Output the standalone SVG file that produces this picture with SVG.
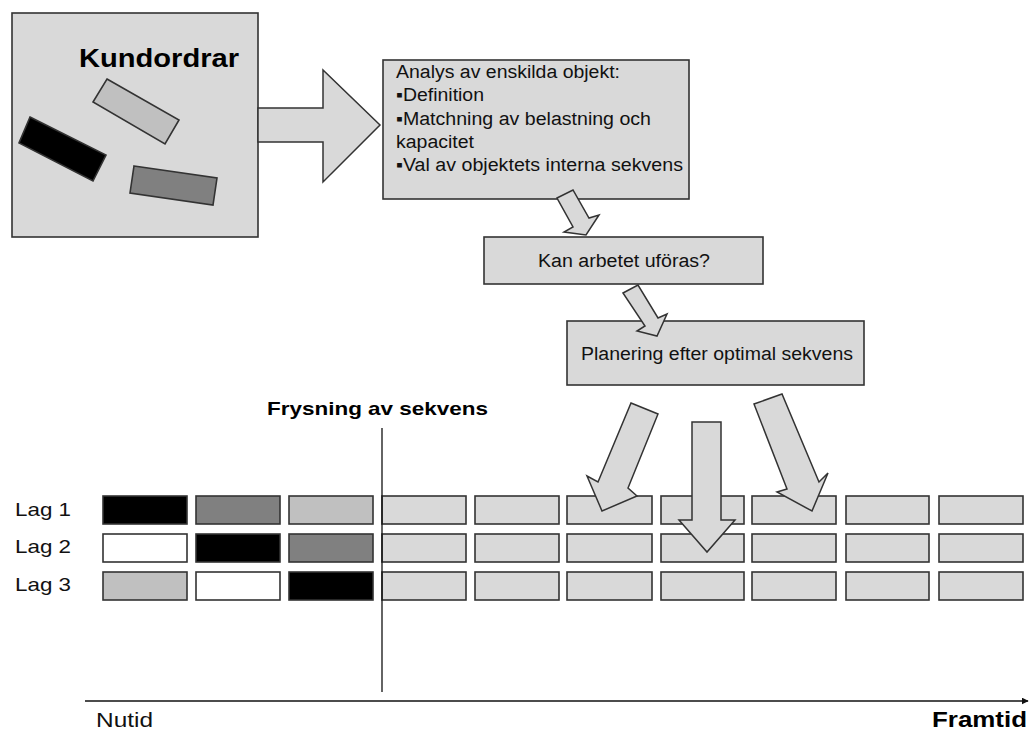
<svg xmlns="http://www.w3.org/2000/svg" width="1029" height="731" viewBox="0 0 1029 731">
  <defs>
    <style>
      .box { fill: #d9d9d9; stroke: #333; stroke-width: 1.6; }
      .arrow { fill: #d9d9d9; stroke: #333; stroke-width: 1.5; stroke-linejoin: miter; }
      .cell { stroke: #333; stroke-width: 1.6; }
      .light { fill: #d9d9d9; }
      .black { fill: #000; }
      .grey { fill: #808080; }
      .pale { fill: #c0c0c0; }
      .white { fill: #fff; }
      .t { font-family: "Liberation Sans", Arial, sans-serif; font-size: 18px; fill: #111; }
      .lag { font-family: "Liberation Sans", Arial, sans-serif; font-size: 19px; fill: #111; }
      .b { font-family: "Liberation Sans", Arial, sans-serif; font-weight: bold; fill: #000; }
    </style>
    <marker id="axisHead" viewBox="0 0 10 10" refX="9" refY="5" markerWidth="7" markerHeight="7" orient="auto" markerUnits="userSpaceOnUse">
      <path d="M0,0 L10,5 L0,10 z" fill="#111"/>
    </marker>
  </defs>
  <rect width="1029" height="731" fill="#fff"/>

  <!-- Incoming customer orders -->
  <g id="kundordrar">
    <rect class="box" x="12" y="13" width="246" height="224"/>
    <text class="b" x="79" y="67" font-size="25" textLength="160" lengthAdjust="spacingAndGlyphs">Kundordrar</text>
    <polygon class="cell pale" points="107,79 179,120 165,144 93,102"/>
    <polygon class="cell black" points="30,117 106,155 93,181 19,143"/>
    <polygon class="cell grey" points="134,166 217,178 213,205 130,193"/>
  </g>

  <!-- Object analysis -->
  <g id="analys">
    <rect class="box" x="383" y="60" width="306" height="139"/>
    <text class="t" x="396" y="78" textLength="224" lengthAdjust="spacingAndGlyphs">Analys av enskilda objekt:</text>
    <text class="t" x="396" y="101" textLength="88" lengthAdjust="spacingAndGlyphs">▪Definition</text>
    <text class="t" x="396" y="125" textLength="255" lengthAdjust="spacingAndGlyphs">▪Matchning av belastning och</text>
    <text class="t" x="396" y="148" textLength="78" lengthAdjust="spacingAndGlyphs">kapacitet</text>
    <text class="t" x="396" y="171" textLength="287" lengthAdjust="spacingAndGlyphs">▪Val av objektets interna sekvens</text>
  </g>

  <!-- Feasibility check -->
  <g id="kan">
    <rect class="box" x="484" y="237" width="279" height="47"/>
    <text class="t" x="538" y="267" textLength="172" lengthAdjust="spacingAndGlyphs">Kan arbetet uföras?</text>
  </g>

  <!-- Sequence planning -->
  <g id="planering">
    <rect class="box" x="567" y="321" width="297" height="64"/>
    <text class="t" x="581" y="360" textLength="272" lengthAdjust="spacingAndGlyphs">Planering efter optimal sekvens</text>
  </g>

  <!-- Freeze label -->
  <g id="frysning">
    <text class="b" x="267" y="415" font-size="19" textLength="221" lengthAdjust="spacingAndGlyphs">Frysning av sekvens</text>
  </g>

  <!-- Layer labels -->
  <g id="lagetiketter">
    <text class="lag" x="15" y="516" textLength="56" lengthAdjust="spacingAndGlyphs">Lag 1</text>
    <text class="lag" x="15" y="553" textLength="56" lengthAdjust="spacingAndGlyphs">Lag 2</text>
    <text class="lag" x="15" y="591" textLength="56" lengthAdjust="spacingAndGlyphs">Lag 3</text>
  </g>

  <!-- Schedule grid: 3 layers x 10 slots -->
  <g id="lag1">
    <rect class="cell black" x="103" y="496" width="84" height="28"/>
    <rect class="cell grey" x="196" y="496" width="84" height="28"/>
    <rect class="cell pale" x="289" y="496" width="84" height="28"/>
    <rect class="cell light" x="382" y="496" width="84" height="28"/>
    <rect class="cell light" x="475" y="496" width="84" height="28"/>
    <rect class="cell light" x="567" y="496" width="85" height="28"/>
    <rect class="cell light" x="661" y="496" width="83" height="28"/>
    <rect class="cell light" x="752" y="496" width="84" height="28"/>
    <rect class="cell light" x="846" y="496" width="83" height="28"/>
    <rect class="cell light" x="939" y="496" width="84" height="28"/>
  </g>
  <g id="lag2">
    <rect class="cell white" x="103" y="534" width="84" height="28"/>
    <rect class="cell black" x="196" y="534" width="84" height="28"/>
    <rect class="cell grey" x="289" y="534" width="84" height="28"/>
    <rect class="cell light" x="382" y="534" width="84" height="28"/>
    <rect class="cell light" x="475" y="534" width="84" height="28"/>
    <rect class="cell light" x="567" y="534" width="85" height="28"/>
    <rect class="cell light" x="661" y="534" width="83" height="28"/>
    <rect class="cell light" x="752" y="534" width="84" height="28"/>
    <rect class="cell light" x="846" y="534" width="83" height="28"/>
    <rect class="cell light" x="939" y="534" width="84" height="28"/>
  </g>
  <g id="lag3">
    <rect class="cell pale" x="103" y="572" width="84" height="28"/>
    <rect class="cell white" x="196" y="572" width="84" height="28"/>
    <rect class="cell black" x="289" y="572" width="84" height="28"/>
    <rect class="cell light" x="382" y="572" width="84" height="28"/>
    <rect class="cell light" x="475" y="572" width="84" height="28"/>
    <rect class="cell light" x="567" y="572" width="85" height="28"/>
    <rect class="cell light" x="661" y="572" width="83" height="28"/>
    <rect class="cell light" x="752" y="572" width="84" height="28"/>
    <rect class="cell light" x="846" y="572" width="83" height="28"/>
    <rect class="cell light" x="939" y="572" width="84" height="28"/>
  </g>

  <!-- Connectors: block arrows, freeze line and time axis -->
  <g id="connectors">
    <polygon class="arrow" points="258,108 323,108 323,70 380,125 323,182 323,142 258,142"/>
    <polygon class="arrow" points="557,198 573,190 589,218 599,215 586,235 564,232 573,227"/>
    <polygon class="arrow" points="623,293 638,285 658,318 667,314 657,336 637,331 645,326"/>
    <polygon class="arrow" points="631,403 658,414 628,488 637,496 602,511 587,476 598,482"/>
    <polygon class="arrow" points="692,422 721,422 721,520 735,520 707,552 679,520 692,520"/>
    <polygon class="arrow" points="754,404 782,394 819,482 828,473 812,511 777,492 787,489"/>
    <line x1="382" y1="428" x2="382" y2="692" stroke="#111" stroke-width="1.3"/>
    <line x1="85" y1="701" x2="1028" y2="701" stroke="#111" stroke-width="1.6" marker-end="url(#axisHead)"/>
  </g>

  <!-- Time axis labels -->
  <g id="tidsaxel">
    <text class="t" x="96" y="727" style="font-size:21px" textLength="57" lengthAdjust="spacingAndGlyphs">Nutid</text>
    <text class="b" x="932" y="727" font-size="22" textLength="95" lengthAdjust="spacingAndGlyphs">Framtid</text>
  </g>
</svg>
